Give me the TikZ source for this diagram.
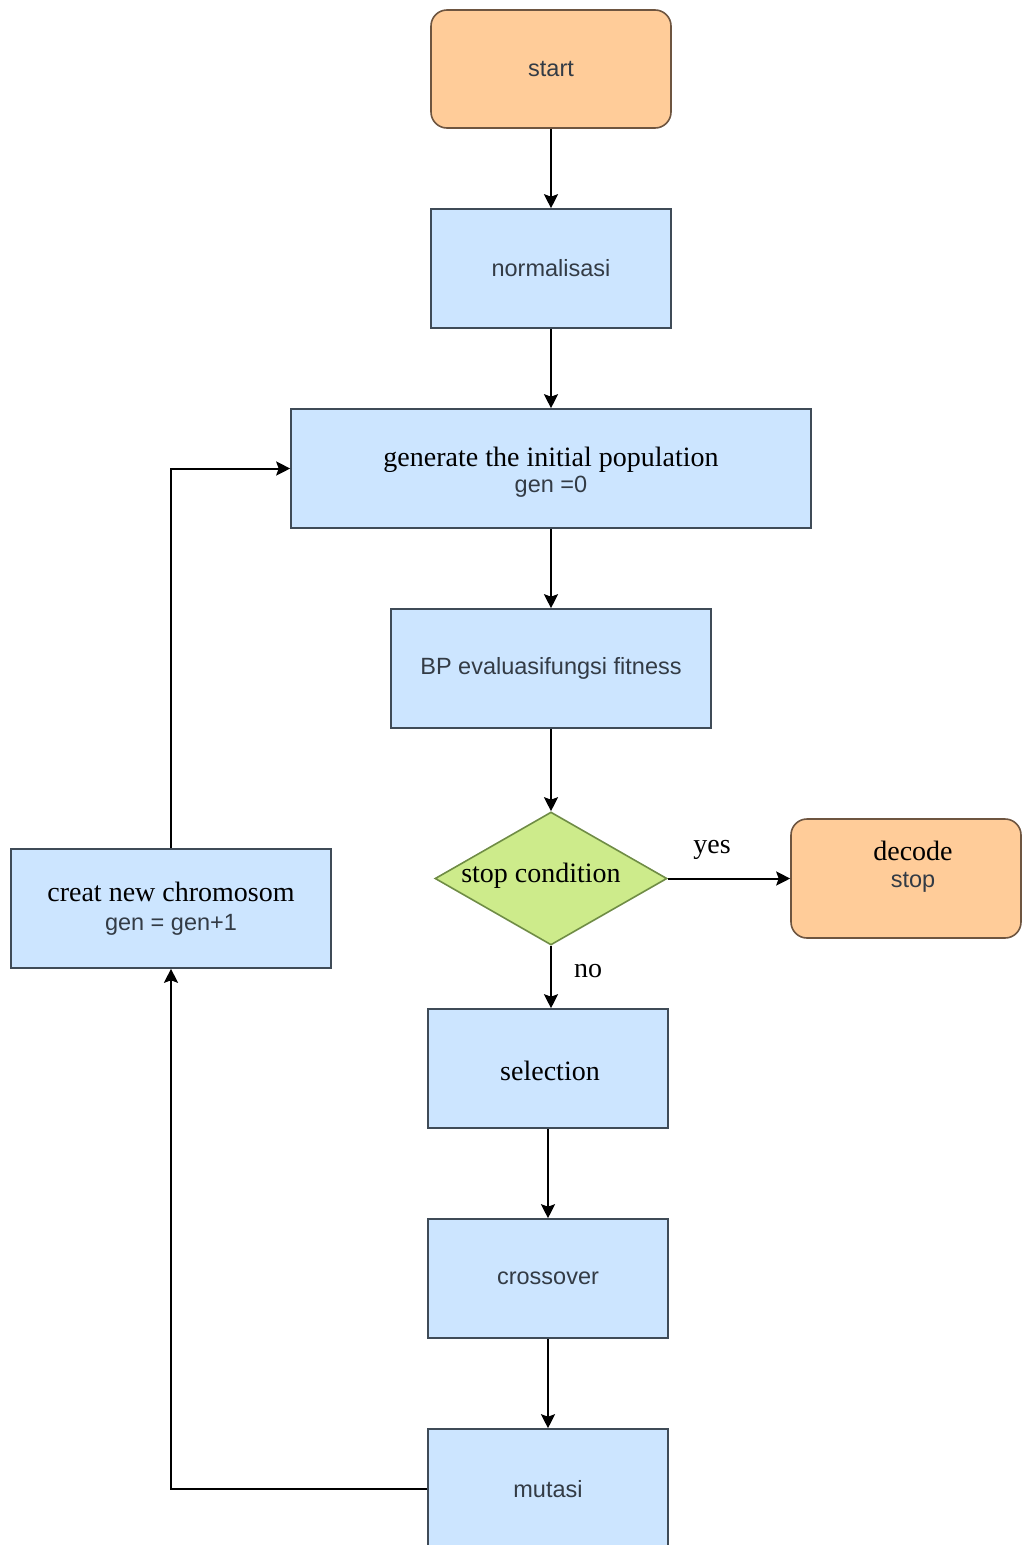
\documentclass[tikz,border=0pt]{standalone}
\usepackage{fontspec}
\setmainfont{Liberation Serif}
\setsansfont{Liberation Sans}
\usetikzlibrary{shapes.geometric,arrows.meta}
\definecolor{blueF}{HTML}{CCE5FF}
\definecolor{orangeF}{HTML}{FFCC99}
\definecolor{greenF}{HTML}{CDEB8B}
\definecolor{strokeC}{HTML}{3F4B57}
\definecolor{orangeS}{HTML}{6E5540}
\definecolor{greenS}{HTML}{6F8C45}
\definecolor{sansC}{HTML}{333B45}
\newcommand\sansfont{\sffamily\fontsize{23.5}{28}\selectfont\color{sansC}}
\newcommand\seriffont{\rmfamily\fontsize{28}{28}\selectfont\color{black}}
\begin{document}
\begin{tikzpicture}[x=1pt,y=-1pt,
  every node/.style={font=\fontsize{22}{28}\selectfont},
  blk/.style={draw=strokeC, line width=1.6pt, fill=blueF, align=center, inner sep=0pt},
  term/.style={draw=orangeS, line width=1.6pt, fill=orangeF, rounded corners=16pt, align=center, inner sep=0pt},
  dec/.style={shape=diamond, draw=greenS, line width=1.6pt, fill=greenF, inner sep=0pt, aspect=1.744, minimum width=232pt, minimum height=133pt},
  txt/.style={align=center, inner sep=0pt},
  arr/.style={draw=black, line width=2pt, -{Stealth[length=14pt,width=14pt,inset=2.5pt,fill=black]}}
]
\useasboundingbox (0,0) rectangle (1021,1545);

\node[term, minimum width=240pt, minimum height=118pt] (start) at (551,69) {\sansfont start};
\node[blk, minimum width=240pt, minimum height=119pt] (norm) at (551,268.5) {\sansfont normalisasi};
\node[blk, minimum width=520pt, minimum height=119pt] (gen) at (551,468.5) {};
\node[txt] (genText) at (551,472)
  {{\seriffont generate the initial population}\\[-2pt]{\sansfont gen =0}};
\node[blk, minimum width=320pt, minimum height=119pt] (bp) at (551,668.5) {\sansfont BP evaluasifungsi fitness};
\node[dec] (dia) at (551,878.5) {};
\node[txt] (diaText) at (541,876) {\seriffont stop condition};
\node[term, minimum width=230pt, minimum height=119pt] (decb) at (906,878.5) {};
\node[txt] (decText) at (913,867) {{\seriffont decode}\\[-1pt]{\sansfont stop}};
\node[blk, minimum width=320pt, minimum height=119pt] (creat) at (171,908.5)
  {{\seriffont creat new chromosom}\\[1pt]{\sansfont gen = gen+1}};
\node[blk, minimum width=240pt, minimum height=119pt] (sel) at (548,1068.5) {};
\node[txt] (selText) at (550,1071) {\seriffont selection};
\node[blk, minimum width=240pt, minimum height=119pt] (cross) at (548,1278.5) {\sansfont crossover};
\node[blk, minimum width=240pt, minimum height=120pt] (mut) at (548,1489) {\sansfont mutasi};

\node[txt] (yes) at (712,850) {\seriffont yes};
\node[txt] (no) at (588,971) {\seriffont no};

\draw[arr] (start) -- (norm);
\draw[arr] (norm) -- (gen);
\draw[arr] (gen) -- (bp);
\draw[arr] (bp) -- (dia);
\draw[arr] (dia) -- (decb);
\draw[arr] (dia.south) -- (dia.south |- sel.north);
\draw[arr] (sel) -- (cross);
\draw[arr] (cross) -- (mut);
\draw[arr] (mut.west) -| (creat.south);
\draw[arr] (creat.north) |- (gen.west);
\end{tikzpicture}
\end{document}
